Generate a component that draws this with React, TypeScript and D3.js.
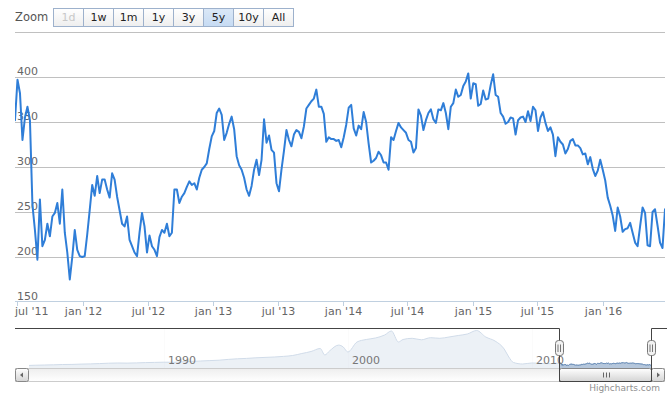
import React from 'react';
import * as d3 from 'd3';

const W = 667;
const H = 396;
const FONT = '"DejaVu Sans", "Lucida Grande", Verdana, sans-serif';

// weekly closes for the 5y window shown in the main plot
const weekStart = '2011-06-24';
const weeklyClose = [
  352, 397, 382, 330, 355, 367, 352, 258, 230, 197, 264, 212, 219,
  237, 223, 245, 249, 260, 237, 275, 227, 205, 175, 200, 230, 208,
  201, 200, 201, 225, 252, 280, 268, 290, 271, 286, 286, 275, 266,
  293, 286, 267, 252, 237, 234, 245, 219, 212, 205, 201, 227, 249,
  234, 205, 224, 212, 208, 201, 222, 230, 227, 237, 223, 227, 275,
  275, 260, 267, 271, 278, 284, 280, 282, 275, 288, 297, 300, 304,
  320, 334, 340, 360, 365, 358, 330, 338, 348, 356, 342, 312, 302,
  297, 288, 275, 268, 279, 297, 308, 291, 308, 353, 327, 335, 319,
  316, 282, 273, 297, 318, 341, 330, 323, 336, 341, 339, 332, 345,
  365, 369, 373, 376, 386, 367, 367, 359, 328, 333, 331, 331, 329,
  330, 322, 333, 347, 366, 369, 343, 335, 346, 342, 361, 350, 326,
  305, 307, 310, 317, 313, 305, 305, 297, 333, 330, 340, 349, 344,
  341, 338, 330, 328, 316, 321, 364, 357, 341, 352, 360, 364, 353,
  349, 364, 363, 371, 360, 342, 367, 371, 386, 378, 380, 390, 395,
  404, 376, 393, 392, 368, 370, 385, 375, 376, 391, 403, 380, 378,
  360, 356, 348, 350, 355, 354, 336, 352, 355, 356, 350, 362, 351,
  367, 363, 340, 355, 361, 349, 340, 344, 336, 312, 333, 328, 325,
  315, 320, 329, 331, 324, 324, 321, 314, 315, 303, 311, 298, 290,
  296, 308, 297, 285, 266, 257, 246, 229, 255, 245, 228, 231, 232,
  238, 227, 216, 212, 234, 255, 249, 213, 212, 250, 253, 235, 216,
  210, 253,
];

// coarse history before the window, only seen in the navigator
const historyDates = [
  '1982-09-01', '1983-01-01', '1983-07-01', '1984-01-01', '1984-07-01', '1985-01-01',
  '1985-07-01', '1986-01-01', '1986-07-01', '1987-01-01', '1987-07-01', '1988-01-01',
  '1988-07-01', '1989-01-01', '1989-07-01', '1990-01-01', '1990-07-01', '1991-01-01',
  '1991-07-01', '1992-01-01', '1992-07-01', '1993-01-01', '1993-07-01', '1994-01-01',
  '1994-07-01', '1995-01-01', '1995-07-01', '1996-01-01', '1996-07-01', '1997-01-01',
  '1997-07-01', '1998-01-01', '1998-07-01', '1998-10-01', '1999-01-01', '1999-07-01',
  '1999-10-01', '2000-01-01', '2000-07-01', '2001-01-01', '2001-07-01', '2002-01-01',
  '2002-05-15', '2002-10-01', '2003-01-01', '2003-07-01', '2004-01-01', '2004-07-01',
  '2005-01-01', '2005-07-01', '2006-01-01', '2006-07-01', '2007-01-01', '2007-07-01',
  '2008-01-01', '2008-07-01', '2008-10-01', '2009-01-01', '2009-07-01', '2010-01-01',
  '2010-07-01', '2011-01-01', '2011-04-15',
];
const historyValues = [
  190, 205, 220, 235, 258, 265,
  288, 302, 325, 354, 369, 361,
  376, 398, 413, 428, 420, 457,
  487, 516, 546, 575, 634, 679,
  708, 752, 782, 811, 856, 922,
  1069, 1217, 1438, 959, 1254, 1689,
  1549, 1180, 1918, 2102, 2213, 2434,
  2729, 1918, 2102, 2190, 2080, 2235,
  2190, 2286, 2397, 2508, 2766, 2286,
  1991, 1401, 811, 406, 295, 369,
  339, 317, 354,
];

const yTicks = [150, 200, 250, 300, 350, 400, 450];
const navYearTicks = [1990, 2000, 2010];
const zoomButtons = ['1d', '1w', '1m', '1y', '3y', '5y', '10y', 'All'];
const selectedZoom = '5y';
const disabledZoom = ['1d'];

const parse = d3.timeParse('%Y-%m-%d');
const fmtMonth = d3.timeFormat("%b '%y");

type Pt = { date: Date; value: number };

export default function App() {
  const start = parse(weekStart) as Date;
  const main: Pt[] = weeklyClose.map((v, i) => ({ date: d3.timeDay.offset(start, i * 7), value: v }));
  const end = main[main.length - 1].date;
  const history: Pt[] = historyDates.map((d, i) => ({ date: parse(d) as Date, value: historyValues[i] }));
  const all = history.concat(main);

  const plot = { left: 15, right: 665, top: 32, bottom: 302 };
  const x = d3.scaleTime().domain([start, end]).range([plot.left, plot.right]);
  const y = d3.scaleLinear().domain([150, 450]).range([plot.bottom, plot.top]);

  const nav = { left: 29, right: 651, top: 328, bottom: 368 };
  const nx = d3.scaleTime().domain([all[0].date, end]).range([nav.left, nav.right]);
  const ny = d3.scaleLinear().domain([0, 2950]).range([nav.bottom, nav.top]);

  const line = d3.line<Pt>().x((d) => x(d.date)).y((d) => y(d.value));
  const navArea = d3
    .area<Pt>()
    .x((d) => nx(d.date))
    .y0(nav.bottom)
    .y1((d) => ny(d.value))
    .curve(d3.curveMonotoneX);
  const navLine = d3
    .line<Pt>()
    .x((d) => nx(d.date))
    .y((d) => ny(d.value))
    .curve(d3.curveMonotoneX);

  const xTicks = x.ticks(d3.timeMonth.every(6) as d3.TimeInterval);
  const crisp = (v: number) => Math.round(v) + 0.5;

  const selLeft = Math.round(nx(start)) + 0.5;
  const selRight = Math.round(nx(end)) + 0.5;
  const sbTop = nav.bottom + 0.5;
  const sbH = 13;

  return (
    <svg
      width={W}
      height={H}
      style={{ position: 'absolute', left: 0, top: 0, fontFamily: FONT, background: '#fff' }}
    >
      <defs>
        <clipPath id="plotClip">
          <rect x={plot.left} y={plot.top - 2} width={plot.right - plot.left} height={plot.bottom - plot.top + 2} />
        </clipPath>
        <clipPath id="navClip">
          <rect x={nav.left} y={nav.top} width={nav.right - nav.left} height={nav.bottom - nav.top} />
        </clipPath>
        <linearGradient id="btnGrad" x1="0" y1="0" x2="0" y2="1">
          <stop offset="0" stopColor="#ffffff" />
          <stop offset="1" stopColor="#eeeeee" />
        </linearGradient>
        <linearGradient id="selGrad" x1="0" y1="0" x2="0" y2="1">
          <stop offset="0" stopColor="#dbe8f7" />
          <stop offset="1" stopColor="#c6dbf3" />
        </linearGradient>
        <linearGradient id="trackGrad" x1="0" y1="0" x2="0" y2="1">
          <stop offset="0" stopColor="#eeeeee" />
          <stop offset="1" stopColor="#ffffff" />
        </linearGradient>
        <linearGradient id="barGrad" x1="0" y1="0" x2="0" y2="1">
          <stop offset="0" stopColor="#ffffff" />
          <stop offset="1" stopColor="#d4d4d4" />
        </linearGradient>
      </defs>

      {/* range selector */}
      <text x={15} y={21} fontSize={11.5} fill="#555">Zoom</text>
      {zoomButtons.map((b, i) => {
        const bx = 53 + i * 30;
        const sel = b === selectedZoom;
        const dis = disabledZoom.includes(b);
        return (
          <g key={b}>
            <rect
              x={bx + 0.5}
              y={8.5}
              width={30}
              height={18}
              fill={sel ? 'url(#selGrad)' : 'url(#btnGrad)'}
              stroke="#9db1cc"
            />
            <text
              x={bx + 15.5}
              y={21}
              fontSize={11}
              textAnchor="middle"
              fill={dis ? '#c8c8c8' : '#222'}
            >
              {b}
            </text>
          </g>
        );
      })}

      {/* y grid + labels */}
      {yTicks.slice(1).map((t) => (
        <line key={t} x1={plot.left} x2={plot.right} y1={crisp(y(t))} y2={crisp(y(t))} stroke="#C0C0C0" />
      ))}
      {yTicks.slice(0, -1).map((t) => (
        <text key={t} x={plot.left + 2} y={y(t) - 2.5} fontSize={11} fill="#666">
          {t}
        </text>
      ))}

      {/* x axis */}
      <line x1={plot.left} x2={plot.right} y1={301.5} y2={301.5} stroke="#C0D0E0" />
      {xTicks.map((t) => {
        const tx = crisp(x(t));
        const label = fmtMonth(t).toLowerCase();
        const half = 18;
        const atStart = tx - half < plot.left;
        return (
          <g key={+t}>
            <line x1={tx} x2={tx} y1={301.5} y2={306} stroke="#C0D0E0" />
            <text
              x={atStart ? plot.left : tx}
              y={315}
              fontSize={11}
              fill="#666"
              textAnchor={atStart ? 'start' : 'middle'}
            >
              {label}
            </text>
          </g>
        );
      })}

      {/* main series */}
      <path
        d={line(main) || ''}
        fill="none"
        stroke="#2f7ed8"
        strokeWidth={2}
        strokeLinejoin="round"
        strokeLinecap="round"
        clipPath="url(#plotClip)"
      />

      {/* navigator */}
      {navYearTicks.map((yr) => {
        const gx = crisp(nx(new Date(yr, 0, 1)));
        return <line key={yr} x1={gx} x2={gx} y1={nav.top} y2={nav.bottom} stroke="#EEE" />;
      })}
      <g clipPath="url(#navClip)">
        <path d={navArea(all) || ''} fill="#4572A7" fillOpacity={0.4} />
        <path d={navLine(all) || ''} fill="none" stroke="#4572A7" strokeWidth={1} />
      </g>
      <rect
        x={nav.left}
        y={nav.top}
        width={selLeft - nav.left}
        height={nav.bottom - nav.top}
        fill="#fff"
        fillOpacity={0.75}
      />
      {navYearTicks.map((yr) => {
        const gx = crisp(nx(new Date(yr, 0, 1)));
        return (
          <text key={yr} x={gx + 3.5} y={nav.bottom - 4} fontSize={11} fill="#777">
            {yr}
          </text>
        );
      })}

      {/* scrollbar */}
      <rect x={plot.left + 0.5} y={sbTop} width={plot.right - plot.left - 1} height={sbH} fill="url(#trackGrad)" stroke="#ccc" />
      <rect x={selLeft} y={sbTop} width={selRight - selLeft} height={sbH} rx={2} fill="url(#barGrad)" stroke="#888" />
      {[-3, 0, 3].map((o) => {
        const cx = Math.round((selLeft + selRight) / 2) + 0.5 + o;
        return <line key={o} x1={cx} x2={cx} y1={sbTop + 4} y2={sbTop + sbH - 4} stroke="#666" />;
      })}
      <rect x={plot.left + 0.5} y={sbTop} width={13} height={sbH} rx={2} fill="url(#barGrad)" stroke="#888" />
      <path d={`M ${plot.left + 5} ${sbTop + 6.5} L ${plot.left + 8} ${sbTop + 4} L ${plot.left + 8} ${sbTop + 9} Z`} fill="#666" />
      <rect x={plot.right - 13.5} y={sbTop} width={13} height={sbH} rx={2} fill="url(#barGrad)" stroke="#888" />
      <path d={`M ${plot.right - 5} ${sbTop + 6.5} L ${plot.right - 8} ${sbTop + 4} L ${plot.right - 8} ${sbTop + 9} Z`} fill="#666" />

      {/* navigator outline */}
      <path
        d={`M ${plot.left} ${nav.top + 0.5} H ${selLeft} V ${sbTop + sbH} H ${selRight} V ${nav.top + 0.5} H ${plot.right + 2}`}
        fill="none"
        stroke="#444"
      />

      {/* handles */}
      {[selLeft, selRight].map((hx) => (
        <g key={hx}>
          <rect x={hx - 4} y={340.5} width={8} height={15} rx={3} fill="#f2f2f2" stroke="#777" />
          <line x1={hx - 1.5} x2={hx - 1.5} y1={344.5} y2={352} stroke="#777" />
          <line x1={hx + 1} x2={hx + 1} y1={344.5} y2={352} stroke="#777" />
        </g>
      ))}

      <text x={660} y={391} fontSize={9} fill="#909090" textAnchor="end">
        Highcharts.com
      </text>
    </svg>
  );
}
